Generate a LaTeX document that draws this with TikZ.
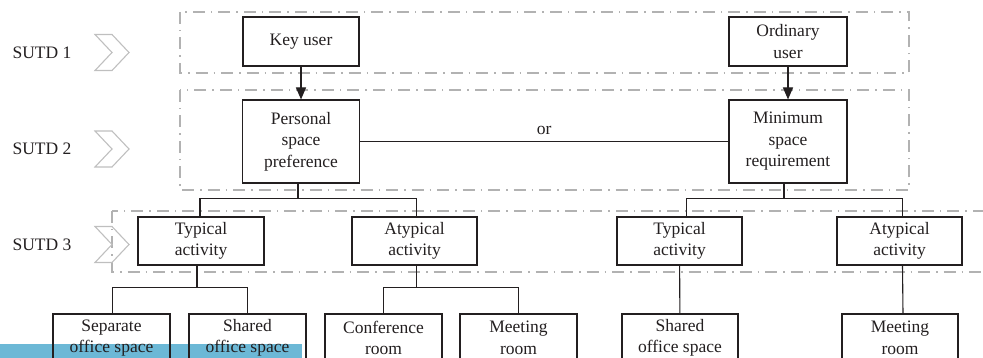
\documentclass[tikz,border=0pt]{standalone}
\usepackage{fontspec}
\setmainfont{Liberation Serif}
\usepackage{tikz}
\usetikzlibrary{arrows.meta}
\definecolor{barblue}{RGB}{108,184,214}
\definecolor{ink}{RGB}{35,31,32}
\newcommand{\mySutd}[2]{
\node[stage] (sutd#1) at (42,#2) {SUTD #1};
\draw[chev] (95,#2) ++(0,-18) -- ++(17,0) -- ++(17,18) -- ++(-17,18) -- ++(-17,0) -- ++(17,-18) -- cycle;
}

\begin{document}
\begin{tikzpicture}[x=1pt,y=-1pt,
	font=\fontsize{17.5}{21.5}\selectfont, color=ink,
	box/.style={draw=ink, line width=1.1pt, rectangle, align=center, inner sep=0pt},
	lane/.style={draw=gray!60, line width=1.1pt, dash pattern=on 12pt off 6pt on 1.5pt off 6pt},
	chev/.style={draw=gray!50, line width=1.1pt, line join=miter},
	stage/.style={inner sep=0pt},
	link/.style={draw=ink, line width=1.1pt},
	tip/.style={-{Triangle[width=10pt,length=12pt]}}]
	\useasboundingbox (0,0) rectangle (983,358);
	\clip (0,0) rectangle (983,358);
	% blue strip at the bottom
	\fill[barblue] (0,344) rectangle (302,358);
	% dashed stage frames
	\draw[lane] (180,12) rectangle (909,73);
	\draw[lane] (180,90) rectangle (909,190);
	\draw[lane] (112,211) rectangle (1010,272);
	% stage labels
	\mySutd{1}{52.5}
	\mySutd{2}{149}
	\mySutd{3}{244.5}
	% users
	\node[box, minimum width=116pt, minimum height=49pt] (key) at (301,41.5) {Key user};
	\node[box, minimum width=118pt, minimum height=49pt] (ord) at (788,41.5) {Ordinary\\user};
	% space demands
	\node[box, minimum width=117pt, minimum height=83pt] (pers) at (301,141.5) {Personal\\space\\preference};
	\node[box, minimum width=118pt, minimum height=83pt] (mini) at (788,141.5) {Minimum\\space\\requirement};
	% activities
	\node[box, minimum width=126pt, minimum height=48pt] (typA) at (201,241) {Typical\\activity};
	\node[box, minimum width=125pt, minimum height=48pt] (atyA) at (414.5,241) {Atypical\\activity};
	\node[box, minimum width=125pt, minimum height=48pt] (typB) at (679.5,241) {Typical\\activity};
	\node[box, minimum width=125pt, minimum height=48pt] (atyB) at (899.5,241) {Atypical\\activity};
	% rooms
	\node[box, minimum width=117pt, minimum height=48pt] (sepA) at (111.5,338) {Separate\\office space};
	\node[box, minimum width=117pt, minimum height=48pt] (shaA) at (247.5,338) {Shared\\office space};
	\node[box, minimum width=117pt, minimum height=48pt] (confA) at (383.5,338) {Conference\\room};
	\node[box, minimum width=117pt, minimum height=48pt] (meetA) at (518.5,338) {Meeting\\room};
	\node[box, minimum width=116pt, minimum height=48pt] (shaB) at (680,338) {Shared\\office space};
	\node[box, minimum width=116pt, minimum height=48pt] (meetB) at (900,338) {Meeting\\room};
	% drawing arrows
	\draw[link, tip] (key) -- (pers);
	\draw[link, tip] (ord) -- (mini);
	\draw[link] (pers) -- node[above=6pt, inner sep=0pt] {or} (mini);
	% drawing tree lines
	\draw[link] ([xshift=-3pt]pers.south) -- ++(0,15) coordinate (busA);
	\draw[link] ([xshift=-1pt]typA.north) |- (busA) -| ([xshift=2pt]atyA.north);
	\draw[link] ([xshift=-4pt]mini.south) -- ++(0,15) coordinate (busB);
	\draw[link] ([xshift=7pt]typB.north) |- (busB) -| ([xshift=3pt]atyB.north);
	\draw[link] ([xshift=-4pt]typA.south) -- ++(0,22) coordinate (busC);
	\draw[link] ([xshift=1pt]sepA.north) |- (busC) -| (shaA.north);
	\draw[link] ([xshift=2pt]atyA.south) -- ++(0,22) coordinate (busD);
	\draw[link] (confA.north) |- (busD) -| (meetA.north);
	\draw[link] (typB) -- (shaB);
	\draw[link] ([xshift=3pt]atyB.south) -- ([xshift=3pt]meetB.north);
\end{tikzpicture}
\end{document}
